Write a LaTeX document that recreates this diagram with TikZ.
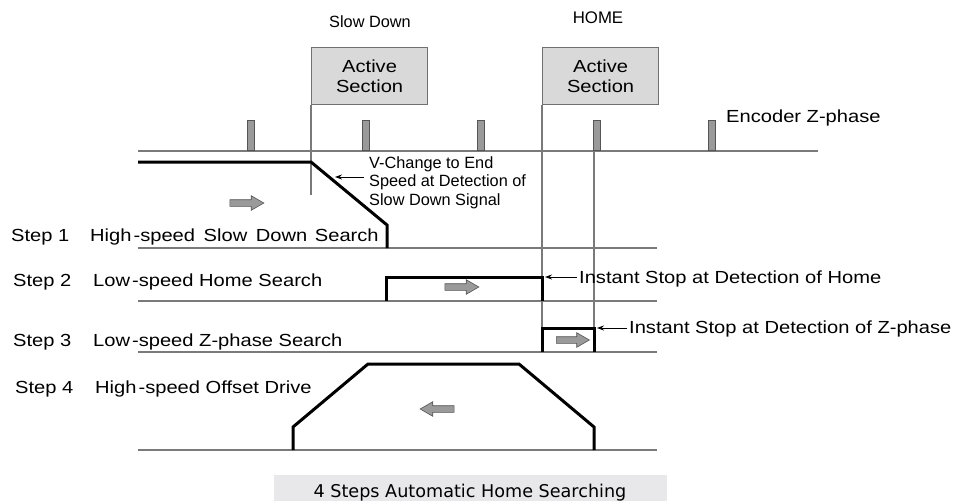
\documentclass[tikz,border=0pt]{standalone}
\usepackage{fontspec}
\setmainfont{Liberation Sans}
\newfontfamily\wf[FakeStretch=1.15]{Liberation Sans}
\newfontfamily\capf{DejaVu Sans}
\usetikzlibrary{arrows.meta,shapes.arrows}
\definecolor{linegray}{HTML}{7A7A7A}
\definecolor{boxfill}{HTML}{D9D9D9}
\definecolor{boxedge}{HTML}{707070}
\definecolor{pulsefill}{HTML}{9A9A9A}
\definecolor{pulseedge}{HTML}{555555}
\definecolor{capfill}{HTML}{E8E8EA}
\tikzset{
  thinline/.style={draw=linegray, line width=1.3pt},
  prof/.style={draw=black, line width=3pt, line join=miter},
  lbl/.style={inner sep=0pt, anchor=base west, font=\wf\fontsize{17.5}{21}\selectfont},
  smalltxt/.style={inner sep=0pt, font=\fontsize{16.3}{18.7}\selectfont},
  activebox/.style={draw=boxedge, fill=boxfill, line width=1.2pt, minimum width=116pt, minimum height=57pt, anchor=north west, inner sep=0pt, align=center, font=\wf\fontsize{17.5}{21}\selectfont},
  pulse/.style={draw=pulseedge, fill=pulsefill, line width=0.8pt, minimum width=7pt, minimum height=30pt, inner sep=0pt, anchor=south},
  garrow/.style={single arrow, draw=pulseedge, fill=pulsefill, line width=0.6pt, inner sep=3pt, minimum height=34pt, single arrow head extend=4pt, single arrow tip angle=60},
  stoparrow/.style={draw=black, line width=0.9pt, -{Stealth[length=7pt,width=5pt]}}
}
\begin{document}
\begin{tikzpicture}[x=1pt,y=-1pt]
\useasboundingbox (0,0) rectangle (962,501);
% top labels
\node[smalltxt, anchor=base] (slowdown) at (370,27) {Slow Down};
\node[inner sep=0pt, anchor=base, font=\fontsize{16.8}{20}\selectfont] (home) at (598,23) {HOME};
% active section boxes
\node[activebox] (box1) at (311,47) {Active\\[-1pt]Section};
\node[activebox] (box2) at (542,47) {Active\\[-1pt]Section};
% encoder line and pulses
\coordinate (encL) at (138,151);
\coordinate (encR) at (818,151);
\draw[thinline] (encL) -- (encR);
\node[pulse] (p1) at (251,151) {};
\node[pulse] (p2) at (366,151) {};
\node[pulse] (p3) at (481,151) {};
\node[pulse] (p4) at (597,151) {};
\node[pulse] (p5) at (712,151) {};
\node[lbl] (enc) at (726,122) {Encoder Z-phase};
% vertical guide lines
\coordinate (v1b) at (311,195);
\coordinate (v2b) at (542,352);
\coordinate (v3t) at (594,151);
\coordinate (v3b) at (594,328);
\draw[thinline] (box1.south west) -- (v1b);
\draw[thinline] (box2.south west) -- (v2b);
\draw[thinline] (v3t) -- (v3b);
% step baselines
\foreach \yy/\nm in {248/b1,301/b2,352/b3,450/b4}{
  \coordinate (\nm L) at (138,\yy);
  \coordinate (\nm R) at (657,\yy);
  \draw[thinline] (\nm L) -- (\nm R);
}
% step labels
\node[lbl] (s1) at (11,241) {Step 1};
\node[lbl] (s1t) at (90,241) {High\hspace{2pt}-speed\hspace{3pt} Slow\hspace{3pt} Down\hspace{2pt} Search};
\node[lbl] (s2) at (13,286) {Step 2};
\node[lbl] (s2t) at (93,286) {Low\hspace{2pt}-speed Home Search};
\node[lbl] (s3) at (13,346) {Step 3};
\node[lbl] (s3t) at (93,346) {Low\hspace{2pt}-speed Z-phase Search};
\node[lbl] (s4) at (15,393) {Step 4};
\node[lbl] (s4t) at (95,393) {High\hspace{2pt}-speed Offset Drive};
% speed profiles
\draw[prof] (138,162) -- (311,162) -- (387,225) -- (387,248);
\draw[prof] (386,301) -- (386,277) -- (542,277) -- (542,301);
\draw[prof] (542,352) -- (542,328) -- (594,328) -- (594,352);
\draw[prof] (293,450) -- (293,427) -- (368,364) -- (519,364) -- (594,427) -- (594,450);
% direction arrows
\node[garrow] (a1) at (244,203) {};
\node[garrow] (a2) at (459,287) {};
\node[garrow, minimum height=33pt] (a3) at (570,340) {};
\node[garrow, shape border rotate=180] (a4) at (440,409) {};
% annotations
\node[smalltxt, anchor=base west, align=left] (vchg) at (369,205.4) {V-Change to End\\Speed at Detection of\\Slow Down Signal};
\coordinate (vtail) at (364,177);
\coordinate (vtip) at (335,177);
\draw[stoparrow] (vtail) -- (vtip);
\node[lbl] (ihome) at (579,283) {Instant Stop at Detection of Home};
\coordinate (htail) at (577,277);
\coordinate (htip) at (545,277);
\draw[stoparrow] (htail) -- (htip);
\node[lbl] (iz) at (629,333) {Instant Stop at Detection of Z-phase};
\coordinate (ztail) at (627,328);
\coordinate (ztip) at (597,328);
\draw[stoparrow] (ztail) -- (ztip);
% caption
\node[fill=capfill, minimum width=393pt, minimum height=26pt, inner sep=0pt, anchor=north west] (capbox) at (274,475) {};
\node[inner sep=0pt, anchor=base, font=\capf\fontsize{17.6}{20}\selectfont] (caption) at (470,497) {4 Steps Automatic Home Searching};
\end{tikzpicture}
\end{document}
